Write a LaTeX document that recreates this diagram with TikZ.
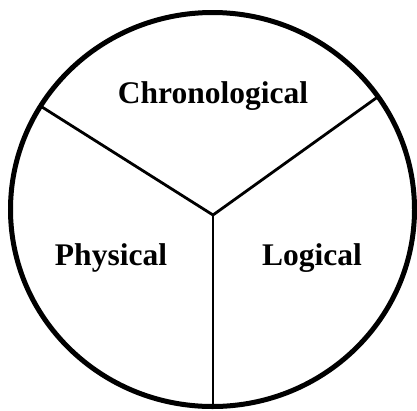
\documentclass[tikz,border=0pt]{standalone}
\usepackage{fontspec}
\setmainfont{Liberation Serif}
\begin{document}
\begin{tikzpicture}[x=1pt,y=-1pt,
  rim/.style={line width=5pt},
  divider/.style={line width=2.8pt},
  sector/.style={font=\bfseries\fontsize{31.5}{36}\selectfont, inner sep=0pt}]
\useasboundingbox (0,0) rectangle (417,410);
\draw[rim] (212.5,209.5) ellipse [x radius=202, y radius=197];
\coordinate (hub) at (213,215);
\coordinate (left) at (42,107);
\coordinate (right) at (379,96);
\coordinate (bottom) at (213,407);
\draw[divider, line join=miter] (left) -- (hub) -- (right);
\draw[divider] (hub) -- (bottom);
\node[sector] (chrono) at (213,96) {Chronological};
\node[sector] (phys) at (111,258) {Physical};
\node[sector] (logic) at (312,258) {Logical};
\end{tikzpicture}
\end{document}
